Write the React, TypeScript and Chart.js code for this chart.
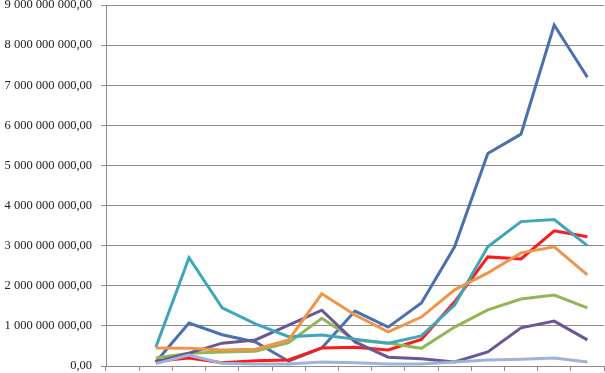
import React, { useEffect, useRef } from "react";
import { Chart, registerables } from "chart.js";

Chart.register(...registerables);

const categories = ["1", "2", "3", "4", "5", "6", "7", "8", "9", "10", "11", "12", "13", "14", "15"];

const seriesBlue = [null, 0.1e9, 1.07e9, 0.78e9, 0.6e9, 0.12e9, 0.45e9, 1.37e9, 0.97e9, 1.57e9, 2.97e9, 5.3e9, 5.78e9, 8.5e9, 7.2e9];
const seriesRed = [null, 0.12e9, 0.2e9, 0.08e9, 0.13e9, 0.15e9, 0.45e9, 0.47e9, 0.4e9, 0.66e9, 1.6e9, 2.72e9, 2.67e9, 3.37e9, 3.22e9];
const seriesGreen = [null, 0.2e9, 0.32e9, 0.35e9, 0.37e9, 0.58e9, 1.19e9, 0.65e9, 0.57e9, 0.44e9, 0.97e9, 1.4e9, 1.67e9, 1.77e9, 1.45e9];
const seriesPurple = [null, 0.1e9, 0.32e9, 0.57e9, 0.65e9, 1.02e9, 1.39e9, 0.6e9, 0.22e9, 0.18e9, 0.1e9, 0.35e9, 0.95e9, 1.12e9, 0.65e9];
const seriesTeal = [null, 0.47e9, 2.7e9, 1.45e9, 1.05e9, 0.73e9, 0.77e9, 0.67e9, 0.57e9, 0.75e9, 1.52e9, 2.97e9, 3.6e9, 3.65e9, 3.0e9];
const seriesOrange = [null, 0.45e9, 0.44e9, 0.4e9, 0.42e9, 0.65e9, 1.8e9, 1.27e9, 0.85e9, 1.22e9, 1.9e9, 2.32e9, 2.82e9, 2.97e9, 2.27e9];
const seriesLight = [null, 0.06e9, 0.27e9, 0.07e9, 0.05e9, 0.05e9, 0.1e9, 0.08e9, 0.05e9, 0.05e9, 0.1e9, 0.15e9, 0.17e9, 0.2e9, 0.1e9];

const yTicks = [0, 1e9, 2e9, 3e9, 4e9, 5e9, 6e9, 7e9, 8e9, 9e9];

function formatValue(v: number): string {
  const intPart = Math.round(v).toString().replace(/\B(?=(\d{3})+(?!\d))/g, " ");
  return intPart + ",00";
}

export default function App() {
  const ref = useRef<HTMLCanvasElement | null>(null);

  useEffect(() => {
    if (!ref.current) return;
    const mk = (label: string, data: (number | null)[], color: string, i: number) => ({
      label,
      data,
      borderColor: color,
      backgroundColor: color,
      borderWidth: 3,
      pointRadius: 0,
      tension: 0,
      fill: false,
      order: 10 - i,
    });
    const chart = new Chart(ref.current, {
      type: "line",
      data: {
        labels: categories,
        datasets: [
          mk("Series 1", seriesBlue, "#4a70ae", 0),
          mk("Series 2", seriesRed, "#ff1a1a", 1),
          mk("Series 3", seriesGreen, "#92b655", 2),
          mk("Series 4", seriesPurple, "#6c5696", 3),
          mk("Series 5", seriesTeal, "#3ea6bb", 4),
          mk("Series 6", seriesOrange, "#f0944a", 5),
          mk("Series 7", seriesLight, "#9db3d9", 6),
        ],
      },
      options: {
        animation: false,
        responsive: false,
        maintainAspectRatio: false,
        layout: { padding: { top: 5, right: 1, bottom: 2, left: 0 } },
        plugins: { legend: { display: false }, tooltip: { enabled: false } },
        scales: {
          x: {
            type: "category",
            offset: true,
            afterFit: (scale: any) => {
              scale.height = 5;
              scale.paddingLeft = 0;
              scale.paddingRight = 0;
            },
            grid: {
              offset: true,
              drawOnChartArea: false,
              drawTicks: true,
              tickLength: 5,
              color: "#8c8c8c",
            },
            border: { display: true, color: "#8c8c8c" },
            ticks: { display: false },
          },
          y: {
            min: 0,
            max: 9e9,
            afterFit: (scale: any) => {
              scale.width = 106;
              scale.paddingTop = 0;
              scale.paddingBottom = 0;
            },
            afterBuildTicks: (scale: any) => {
              scale.ticks = yTicks.map((v) => ({ value: v }));
            },
            grid: { color: "#8c8c8c", tickLength: 5 },
            border: { display: true, color: "#8c8c8c" },
            ticks: {
              padding: 9,
              color: "#222222",
              font: { family: "'Liberation Serif', 'Times New Roman', serif", size: 12.5 },
              callback: (v: any) => formatValue(Number(v)),
            },
          },
        },
      },
    });
    return () => chart.destroy();
  }, []);

  return (
    <div style={{ position: "fixed", left: 0, top: 0, width: 605, height: 373, background: "#fff" }}>
      <canvas ref={ref} width={605} height={373} style={{ width: 605, height: 373, display: "block" }} />
    </div>
  );
}
